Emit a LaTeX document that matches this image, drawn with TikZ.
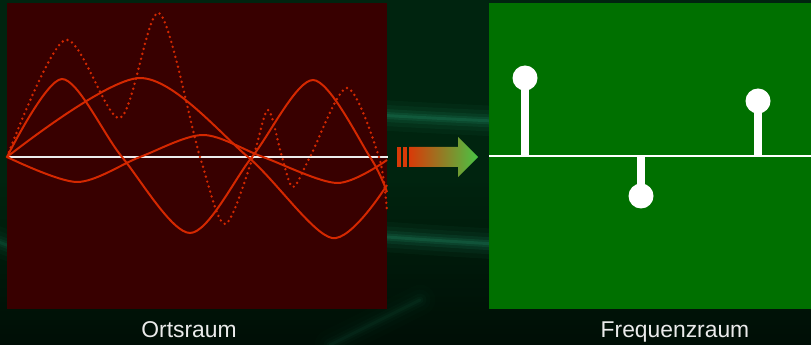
\documentclass[tikz,border=0pt]{standalone}
\usepackage{fontspec}
\setmainfont{Liberation Sans}
\usepackage{xcolor}
\usepackage{tikz}
\usetikzlibrary{positioning, calc}

\definecolor{bgdark}{HTML}{00240F}
\definecolor{bgteal}{HTML}{22906A}
\definecolor{ortsbg}{HTML}{380000}
\definecolor{freqbg}{HTML}{007000}
\definecolor{wavered}{HTML}{D42800}
\definecolor{arrowred}{HTML}{D83A08}
\definecolor{arrowgreen}{HTML}{48C444}

\begin{document}
\begin{tikzpicture}[x=0.03cm, y=-0.03cm,
    wave/.style={wavered, line width=1.7pt},
    dotwave/.style={wavered, line width=2.3pt, line cap=round, dash pattern=on 0pt off 4.4pt},
    stem/.style={white, line width=7.4pt},
    tip/.style={circle, fill=white, minimum size=0.75cm, inner sep=0pt},
    panel/.style={inner sep=0pt, minimum height=9.18cm, anchor=north west},
    caption/.style={white!92!black, font=\fontsize{19.5}{23}\selectfont, anchor=base},
    glow/.style={bgteal, line cap=round}]
      \useasboundingbox (0,0) rectangle (811,345);

      % Background
      \fill[bgdark] (0,0) rectangle (811,345);
      \shade[top color=bgdark, bottom color=black, opacity=0.6] (0,180) rectangle (811,345);
      \begin{scope}
        \clip (0,0) rectangle (811,345);
        \foreach \w/\o in {26/0.06, 18/0.08, 11/0.12, 6/0.16, 2.5/0.22} {
          \draw[glow, line width=\w pt, opacity=\o] (300,110) .. controls (420,118) .. (811,135);
          \draw[glow, line width=\w pt, opacity=\o] (300,230) .. controls (420,240) .. (811,262);
          \draw[glow, line width=\w pt, opacity=0.6*\o] (-20,235) -- (20,250);
          \draw[glow, line width=\w pt, opacity=0.3*\o] (330,345) -- (420,300);
        }
      \end{scope}

      % Ortsraum
      \node[panel, fill=ortsbg, minimum width=11.4cm] (ortspanel) at (7,3) {};
      \coordinate (oaxisL) at (7,157);
      \coordinate (oaxisR) at (388,157);
      \draw[white!85!gray, line width=1.45pt] (oaxisL) -- (oaxisR);
      \draw[wave] plot[smooth] coordinates {(7,157) (62,79) (122,157) (190,233) (252,157) (313,80) (370,157) (387,192)};
      \draw[wave] plot[smooth] coordinates {(7,157) (140,78) (248,157) (332,238) (387,185)};
      \draw[wave] plot[smooth] coordinates {(7,157) (77,182) (140,157) (203,135) (263,157) (337,183) (387,160)};
      \draw[dotwave] plot[smooth] coordinates {(7,157) (65,40) (120,118) (159,13) (200,157) (225,224) (253,157) (268,110) (282,157) (293,187) (310,157) (347,88) (379,157) (387,212)};
      \node[caption] (ortslabel) at (189,337) {Ortsraum};

      % Arrow
      \fill[arrowred] (397,147) rectangle (401,167);
      \fill[arrowred] (403,147) rectangle (407,167);
      \shade[left color=arrowred, right color=arrowgreen] (409,147) -- (458,147) -- (458,137) -- (478,157) -- (458,177) -- (458,167) -- (409,167) -- cycle;

      % Frequenzraum
      \node[panel, fill=freqbg, minimum width=9.66cm] (freqpanel) at (489,3) {};
      \coordinate (faxisL) at (489,156);
      \coordinate (faxisR) at (811,156);
      \draw[white, line width=1.1pt] (faxisL) -- (faxisR);
      \foreach \i/\x/\y in {1/525/78, 2/641/196, 3/758/101} {
        \coordinate (foot\i) at (\x,156);
        \node[tip] (peak\i) at (\x,\y) {};
        \draw[stem] (foot\i) -- (peak\i.center);
      }
      \node[caption] (freqlabel) at (675,337) {Frequenzraum};
    \end{tikzpicture}
\end{document}
